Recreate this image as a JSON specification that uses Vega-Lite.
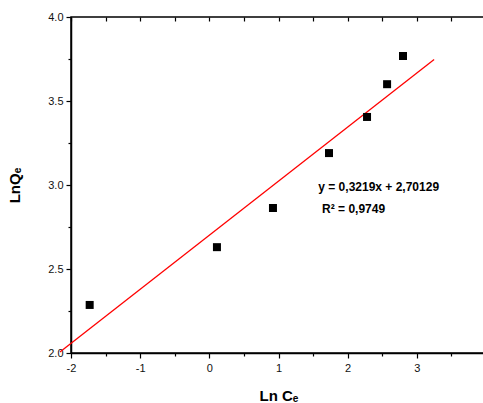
{
  "$schema": "https://vega.github.io/schema/vega-lite/v6.json",
  "width": 415,
  "height": 336,
  "autosize": {"type": "none"},
  "padding": {"left": 71, "top": 17, "right": 0, "bottom": 50},
  "background": "white",
  "config": {
    "view": {"stroke": "black", "strokeWidth": 1.5},
    "axis": {
      "grid": false,
      "domainColor": "black",
      "domainWidth": 1.5,
      "tickColor": "black",
      "tickWidth": 1.2,
      "labelFont": "Liberation Sans",
      "labelFontSize": 11,
      "labelColor": "#111",
      "labelFlush": false,
      "titleFont": "Liberation Sans",
      "titleFontSize": 15,
      "titleFontWeight": "bold",
      "titleColor": "black"
    }
  },
  "resolve": {"axis": {"x": "independent", "y": "independent"}},
  "datasets": {
    "pts": [
      {"x": -1.73, "y": 2.286},
      {"x": 0.11, "y": 2.63},
      {"x": 0.92, "y": 2.863},
      {"x": 1.73, "y": 3.19},
      {"x": 2.28, "y": 3.405},
      {"x": 2.57, "y": 3.6},
      {"x": 2.8, "y": 3.768}
    ],
    "fit": [
      {"x": -2.16, "y": 2.006},
      {"x": 3.25, "y": 3.7475}
    ],
    "eq": [
      {"x": 1.575, "y": 2.988, "t": "y = 0,3219x + 2,70129"},
      {"x": 1.63, "y": 2.857, "t": "R² = 0,9749"}
    ]
  },
  "layer": [
    {
      "data": {"name": "fit"},
      "mark": {"type": "line", "color": "red", "strokeWidth": 1.3, "clip": false},
      "encoding": {
        "x": {"field": "x", "type": "quantitative", "scale": {"domain": [-2, 4], "nice": false, "zero": false},
          "axis": {"orient": "top", "labels": false, "title": null, "domain": false, "values": [-2, -1.5, -1, -0.5, 0, 0.5, 1, 1.5, 2, 2.5, 3, 3.5, 4], "tickSize": -4}},
        "y": {"field": "y", "type": "quantitative", "scale": {"domain": [2, 4], "nice": false, "zero": false}, "axis": null}
      }
    },
    {
      "data": {"name": "pts"},
      "mark": {"type": "square", "size": 64, "color": "black", "opacity": 1, "filled": true},
      "encoding": {
        "x": {"field": "x", "type": "quantitative", "scale": {"domain": [-2, 4], "nice": false, "zero": false},
          "axis": {"orient": "bottom", "title": "Ln Cₑ", "titlePadding": 15,
            "values": [-2, -1.5, -1, -0.5, 0, 0.5, 1, 1.5, 2, 2.5, 3, 3.5, 4],
            "labelExpr": "datum.value % 1 === 0 ? '' + datum.value : ''",
            "tickSize": {"condition": {"test": "datum.value % 1 !== 0", "value": 3}, "value": 5},
            "labelPadding": 4}},
        "y": {"field": "y", "type": "quantitative", "scale": {"domain": [2, 4], "nice": false, "zero": false},
          "axis": {"orient": "left", "title": "LnQₑ", "titlePadding": 25, "format": ".1f",
            "values": [2, 2.25, 2.5, 2.75, 3, 3.25, 3.5, 3.75, 4],
            "labelExpr": "(datum.value * 2) % 1 === 0 ? datum.label : ''",
            "tickSize": {"condition": {"test": "(datum.value * 2) % 1 !== 0", "value": 3}, "value": 5},
            "labelPadding": 3}}
      }
    },
    {
      "data": {"name": "eq"},
      "mark": {"type": "text", "align": "left", "baseline": "middle", "font": "Liberation Sans", "fontSize": 12, "fontWeight": "bold", "color": "black"},
      "encoding": {
        "x": {"field": "x", "type": "quantitative", "axis": null},
        "y": {"field": "y", "type": "quantitative", "axis": null},
        "text": {"field": "t"}
      }
    }
  ]
}
